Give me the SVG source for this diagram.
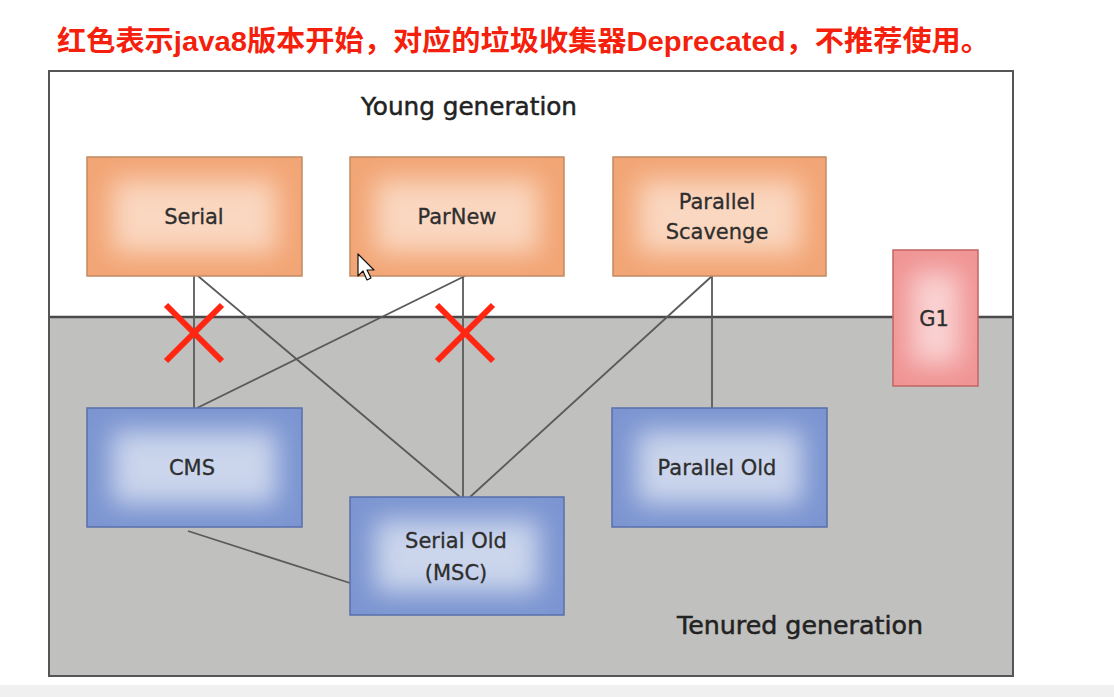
<svg xmlns="http://www.w3.org/2000/svg" width="1114" height="697" viewBox="0 0 1114 697">
  <style>
    .title { font-family: "Liberation Sans", "Noto Sans CJK SC", sans-serif; font-weight: bold; font-size: 28px; fill: #f41f0c; }
    .lbl { font-family: "DejaVu Sans", "Liberation Sans", sans-serif; font-size: 21px; fill: #2e2e2e; stroke: #2e2e2e; stroke-width: 0.3; text-anchor: middle; }
    .gen { font-family: "DejaVu Sans", "Liberation Sans", sans-serif; font-size: 24px; fill: #222; stroke: #222; stroke-width: 0.5; }
    .conn line { stroke: #5a5a5a; stroke-width: 1.8; }
    .xmark line { stroke: #ff2612; stroke-width: 6; }
    .orange .base { fill: #f2a575; }
    .orange .glow { fill: #fad7c0; }
    .blue .base { fill: #7c95d1; }
    .blue .glow { fill: #cbd5ec; }
    .pink .base { fill: #f09494; }
    .pink .glow { fill: #fad2d2; }
    .orange .edge { fill: none; stroke: #c28a62; stroke-width: 1.5; }
    .blue .edge { fill: none; stroke: #5a6fab; stroke-width: 1.5; }
    .pink .edge { fill: none; stroke: #c06464; stroke-width: 1.5; }
  </style>
  <defs>
    <filter id="soft" x="-50%" y="-50%" width="200%" height="200%">
      <feGaussianBlur stdDeviation="13"/>
    </filter>
    <clipPath id="boxclip" clipPathUnits="objectBoundingBox">
      <rect x="0" y="0" width="1" height="1"/>
    </clipPath>
  </defs>

  <rect x="0" y="0" width="1114" height="697" fill="#ffffff"/>
  <rect x="0" y="685" width="1114" height="12" fill="#f0f0f0"/>

  <text class="title" x="57" y="51" textLength="933" lengthAdjust="spacingAndGlyphs">红色表示java8版本开始，对应的垃圾收集器Deprecated，不推荐使用。</text>

  <g id="frame">
    <rect x="49" y="71" width="964" height="246" fill="#ffffff"/>
    <rect x="49" y="317" width="964" height="359" fill="#c0c0be"/>
    <line x1="49" y1="317" x2="1013" y2="317" stroke="#4a4a4a" stroke-width="2.5"/>
    <rect x="49" y="71" width="964" height="605" fill="none" stroke="#555" stroke-width="2"/>
    <text class="gen" x="361" y="115" textLength="216" lengthAdjust="spacingAndGlyphs">Young generation</text>
    <text class="gen" x="677" y="634" textLength="246" lengthAdjust="spacingAndGlyphs">Tenured generation</text>
  </g>

  <g id="connectors" class="conn">
    <line x1="194" y1="276" x2="194" y2="408"/>
    <line x1="198" y1="276" x2="460" y2="497"/>
    <line x1="465" y1="276" x2="197" y2="408"/>
    <line x1="463" y1="276" x2="463" y2="497"/>
    <line x1="712" y1="276" x2="470" y2="497"/>
    <line x1="712" y1="276" x2="712" y2="408"/>
    <line x1="188" y1="531" x2="350" y2="583"/>
  </g>

  <g id="serial" class="orange">
    <g clip-path="url(#boxclip)">
      <rect class="base" x="87" y="157" width="215" height="119"/>
      <rect class="glow" x="112" y="180" width="165" height="73" filter="url(#soft)"/>
    </g>
    <rect class="edge" x="87" y="157" width="215" height="119"/>
    <text class="lbl" x="194" y="224">Serial</text>
  </g>

  <g id="parnew" class="orange">
    <g clip-path="url(#boxclip)">
      <rect class="base" x="350" y="157" width="214" height="119"/>
      <rect class="glow" x="375" y="180" width="164" height="73" filter="url(#soft)"/>
    </g>
    <rect class="edge" x="350" y="157" width="214" height="119"/>
    <text class="lbl" x="457" y="224">ParNew</text>
  </g>

  <g id="parallel-scavenge" class="orange">
    <g clip-path="url(#boxclip)">
      <rect class="base" x="613" y="157" width="213" height="119"/>
      <rect class="glow" x="638" y="180" width="163" height="73" filter="url(#soft)"/>
    </g>
    <rect class="edge" x="613" y="157" width="213" height="119"/>
    <text class="lbl" x="717" y="209">Parallel</text>
    <text class="lbl" x="717" y="239">Scavenge</text>
  </g>

  <g id="g1" class="pink">
    <g clip-path="url(#boxclip)">
      <rect class="base" x="893" y="250" width="85" height="136"/>
      <rect class="glow" x="911" y="272" width="49" height="92" filter="url(#soft)"/>
    </g>
    <rect class="edge" x="893" y="250" width="85" height="136"/>
    <text class="lbl" x="934" y="326">G1</text>
  </g>

  <g id="cms" class="blue">
    <g clip-path="url(#boxclip)">
      <rect class="base" x="87" y="408" width="215" height="119"/>
      <rect class="glow" x="112" y="431" width="165" height="73" filter="url(#soft)"/>
    </g>
    <rect class="edge" x="87" y="408" width="215" height="119"/>
    <text class="lbl" x="192" y="475">CMS</text>
  </g>

  <g id="serial-old" class="blue">
    <g clip-path="url(#boxclip)">
      <rect class="base" x="350" y="497" width="214" height="118"/>
      <rect class="glow" x="375" y="520" width="164" height="72" filter="url(#soft)"/>
    </g>
    <rect class="edge" x="350" y="497" width="214" height="118"/>
    <text class="lbl" x="456" y="548">Serial Old</text>
    <text class="lbl" x="456" y="580">(MSC)</text>
  </g>

  <g id="parallel-old" class="blue">
    <g clip-path="url(#boxclip)">
      <rect class="base" x="612" y="408" width="215" height="119"/>
      <rect class="glow" x="637" y="431" width="165" height="73" filter="url(#soft)"/>
    </g>
    <rect class="edge" x="612" y="408" width="215" height="119"/>
    <text class="lbl" x="717" y="475">Parallel Old</text>
  </g>

  <g id="marks" class="xmark">
    <line x1="166" y1="305" x2="222" y2="361"/>
    <line x1="222" y1="305" x2="166" y2="361"/>
    <line x1="437" y1="305" x2="493" y2="361"/>
    <line x1="493" y1="305" x2="437" y2="361"/>
  </g>

  <g id="cursor">
    <polygon points="358,254 358,276 363,271 367,280 371,278 367,270 374,270" fill="#ffffff" stroke="#111" stroke-width="1.2" stroke-linejoin="round"/>
  </g>
</svg>
